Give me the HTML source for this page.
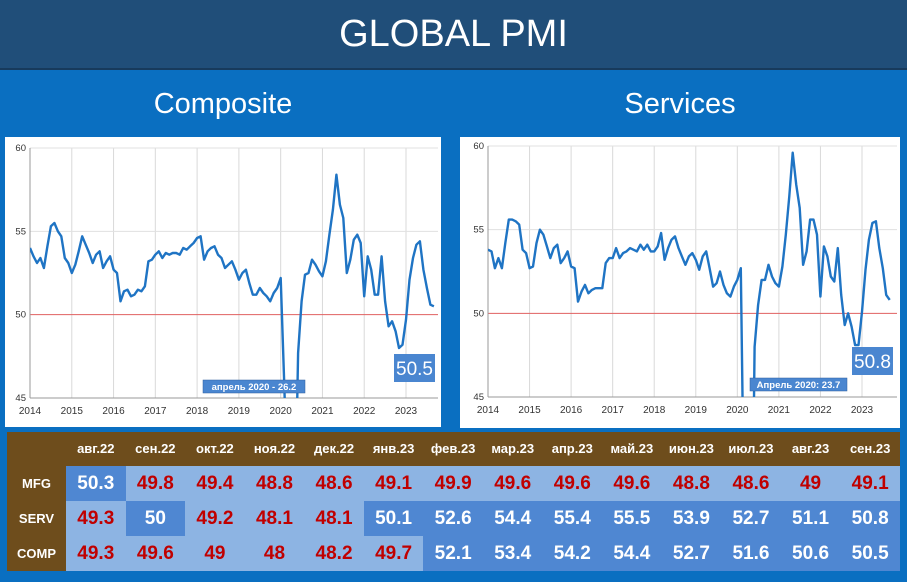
<!DOCTYPE html>
<html><head><meta charset="utf-8">
<style>
html,body{margin:0;width:907px;height:582px;overflow:hidden}
body{background:#0a6fc1;font-family:"Liberation Sans",sans-serif;position:relative}
.abs{position:absolute}
#title{left:0;top:0;width:907px;height:68px;background:#204e79;border-bottom:2px solid #173a5c;color:#fff;font-size:38px;text-align:center;line-height:68px}
.sub{top:88px;color:#fff;font-size:29px;text-align:center;width:300px}
.panel{background:#fff}
table{border-collapse:collapse;position:absolute;left:7px;top:432px;width:893px;font-weight:bold;table-layout:fixed}
th{background:#6e4d1c;color:#fff;font-size:13px;height:34px;font-weight:bold;padding:0;line-height:14px}
td{height:35px;text-align:center;font-size:19px;padding:0;line-height:20px}
td.lab{background:#6e4d1c;color:#fff;font-size:13px}
td.l{background:#8db4e3;color:#c00000}
td.m{background:#4f87d2;color:#fff}
</style></head><body>
<div id="title" class="abs">GLOBAL PMI</div>
<div class="abs sub" style="left:73px">Composite</div>
<div class="abs sub" style="left:530px">Services</div>
<div class="abs panel" style="left:5px;top:137px;width:436px;height:290px"></div>
<div class="abs panel" style="left:460px;top:137px;width:440px;height:291px"></div>
<svg class="abs" id="chart" style="left:0;top:0" width="907" height="582"></svg>
<table>
<colgroup><col style="width:59px"></colgroup>
<tr><th></th><th>авг.22</th><th>сен.22</th><th>окт.22</th><th>ноя.22</th><th>дек.22</th><th>янв.23</th><th>фев.23</th><th>мар.23</th><th>апр.23</th><th>май.23</th><th>июн.23</th><th>июл.23</th><th>авг.23</th><th>сен.23</th></tr>
<tr><td class="lab">MFG</td><td class="m">50.3</td><td class="l">49.8</td><td class="l">49.4</td><td class="l">48.8</td><td class="l">48.6</td><td class="l">49.1</td><td class="l">49.9</td><td class="l">49.6</td><td class="l">49.6</td><td class="l">49.6</td><td class="l">48.8</td><td class="l">48.6</td><td class="l">49</td><td class="l">49.1</td></tr>
<tr><td class="lab">SERV</td><td class="l">49.3</td><td class="m">50</td><td class="l">49.2</td><td class="l">48.1</td><td class="l">48.1</td><td class="m">50.1</td><td class="m">52.6</td><td class="m">54.4</td><td class="m">55.4</td><td class="m">55.5</td><td class="m">53.9</td><td class="m">52.7</td><td class="m">51.1</td><td class="m">50.8</td></tr>
<tr><td class="lab">COMP</td><td class="l">49.3</td><td class="l">49.6</td><td class="l">49</td><td class="l">48</td><td class="l">48.2</td><td class="l">49.7</td><td class="m">52.1</td><td class="m">53.4</td><td class="m">54.2</td><td class="m">54.4</td><td class="m">52.7</td><td class="m">51.6</td><td class="m">50.6</td><td class="m">50.5</td></tr>
</table>
<script>
const years=["2014","2015","2016","2017","2018","2019","2020","2021","2022","2023"];
const yTicks=[45,50,55,60];
const compositeValues=[54.0,53.5,53.1,53.4,52.8,54.1,55.3,55.5,55.0,54.7,53.4,53.1,
52.5,53.0,53.8,54.7,54.2,53.7,53.1,53.6,53.8,52.8,53.2,53.5,
52.7,52.5,50.8,51.4,51.5,51.1,51.2,51.5,51.4,51.7,53.2,53.3,
53.6,53.8,53.4,53.7,53.6,53.7,53.7,53.6,54.0,53.9,54.1,54.3,
54.6,54.7,53.3,53.8,54.0,54.1,53.6,53.4,52.8,53.0,53.2,52.7,
52.1,52.5,52.7,51.9,51.2,51.2,51.6,51.3,51.1,50.8,51.3,51.6,
52.2,46.1,39.4,26.2,36.3,47.7,50.8,52.4,52.5,53.3,53.0,52.6,
52.3,53.2,54.8,56.3,58.4,56.6,55.8,52.5,53.3,54.5,54.8,54.3,
51.1,53.5,52.7,51.2,51.2,53.5,50.8,49.3,49.6,49.0,48.0,48.2,
49.7,52.1,53.4,54.2,54.4,52.7,51.6,50.6,50.5];
const servicesValues=[53.8,53.7,52.7,53.3,52.7,54.2,55.6,55.6,55.5,55.3,53.8,53.6,
52.7,52.8,54.2,55.0,54.7,54.0,53.3,53.9,54.1,53.0,53.3,53.7,
52.8,52.7,50.7,51.3,51.7,51.2,51.4,51.5,51.5,51.5,53.0,53.3,
53.3,53.9,53.3,53.6,53.7,53.9,53.8,53.7,54.1,53.8,54.1,53.7,
53.7,54.0,54.8,53.2,53.9,54.4,54.6,53.9,53.4,52.9,53.4,53.6,
53.2,52.6,53.4,53.7,52.7,51.6,51.8,52.5,51.7,51.2,51.0,51.6,
52.0,52.7,37.0,23.7,30.5,48.0,50.5,52.0,52.0,52.9,52.2,51.8,
51.6,52.8,54.7,57.0,59.6,57.7,56.3,52.9,53.7,55.6,55.6,54.7,
51.0,54.0,53.4,52.2,51.9,53.9,51.1,49.3,50.0,49.2,48.1,48.1,
50.1,52.6,54.4,55.4,55.5,53.9,52.7,51.1,50.8];
const compositeLabels=["апрель 2020 - 26.2","50.5"];
const servicesLabels=["Апрель 2020: 23.7","50.8"];

const NS="http://www.w3.org/2000/svg";
const svg=document.getElementById('chart');
function mk(tag,attrs,parent){const e=document.createElementNS(NS,tag);for(const k in attrs)e.setAttribute(k,attrs[k]);(parent||svg).appendChild(e);return e;}
function drawChart(id,cfg,values,labels){
  const g=mk('g',{});
  
  
  const x=i=>cfg.x0+(cfg.x1-cfg.x0)*i/108;
  const y=v=>cfg.y45+(cfg.y60-cfg.y45)*(v-45)/15;
  const clip=mk('clipPath',{id:id+'-clip'},g);
  mk('rect',{x:cfg.x0,y:y(60)-5,width:cfg.right-cfg.x0,height:y(45)-y(60)+5},clip);
  years.forEach((yr,k)=>{
    const xx=x(k*12);
    const gl=mk('line',{x1:xx,x2:xx,y1:y(60),y2:y(45),stroke:'#d9d9d9','stroke-width':1},g);
    
    
    const t=mk('text',{x:xx,y:y(45)+16,'font-size':10,'text-anchor':'middle',fill:'#333'},g);
    t.textContent=yr;
    
    
  });
  yTicks.forEach(v=>{
    const ln=mk('line',{x1:cfg.x0,x2:cfg.right,y1:y(v),y2:y(v),stroke:v===50?'#e06060':(v===45?'#999':'#e0e0e0'),'stroke-width':1},g);
    
    
    const t=mk('text',{x:cfg.x0-4,y:y(v)+3,'font-size':9.5,'text-anchor':'end',fill:'#333'},g);
    t.textContent=String(v);
    
    
  });
  mk('line',{x1:cfg.x0,x2:cfg.x0,y1:y(60),y2:y(45),stroke:'#999'},g);
  const pts=values.map((v,i)=>x(i).toFixed(1)+','+y(v).toFixed(1)).join(' ');
  const pl=mk('polyline',{points:pts,fill:'none',stroke:'#1f74c4','stroke-width':2.4,'stroke-linejoin':'round','clip-path':'url(#'+id+'-clip)'},g);
  
  
  const a=cfg.ann;
  const r1=mk('rect',{x:a.x,y:a.y,width:a.w,height:13,fill:'#4a86d0',stroke:'#2f5f9e','stroke-width':0.5},g);
  
  
  const t1=mk('text',{x:a.x+a.w/2,y:a.y+10,'font-size':9.5,'font-weight':'bold','text-anchor':'middle',fill:'#fff'},g);
  t1.textContent=labels[0];
  const b=cfg.big;
  const r2=mk('rect',{x:b.x,y:b.y,width:41,height:28,fill:'#4a86d0'},g);
  
  
  const t2=mk('text',{x:b.x+20.5,y:b.y+21,'font-size':19,'text-anchor':'middle',fill:'#fff'},g);
  t2.textContent=labels[1];
}
drawChart('composite',{x0:30,x1:406,right:438,y60:148,y45:398,ann:{x:203,y:380,w:102},big:{x:394,y:354}},compositeValues,compositeLabels);
drawChart('services',{x0:488,x1:862,right:897,y60:146,y45:397,ann:{x:750,y:378,w:97},big:{x:852,y:347}},servicesValues,servicesLabels);
</script>
</body></html>
